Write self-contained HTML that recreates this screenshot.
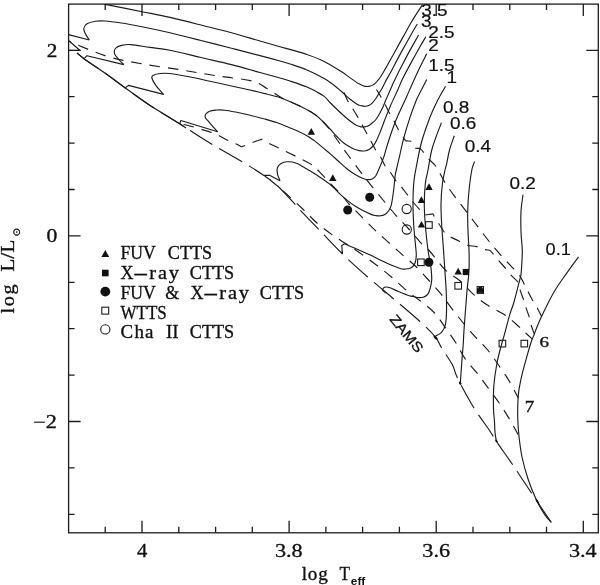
<!DOCTYPE html>
<html><head><meta charset="utf-8"><title>HR diagram</title>
<style>html,body{margin:0;padding:0;background:#fff}svg{display:block}</style></head>
<body>
<svg width="600" height="585" viewBox="0 0 600 585">
<rect x="0" y="0" width="600" height="585" fill="#fff"/>
<g fill="none" stroke="#1c1c1c" stroke-width="1.3" stroke-linecap="butt">
<rect x="68.6" y="4.1" width="529.7" height="528.7"/>
<path d="M105.2 532.8v-6.0M105.2 4.1v6.0M142.0 532.8v-12.0M142.0 4.1v12.0M178.8 532.8v-6.0M178.8 4.1v6.0M215.6 532.8v-6.0M215.6 4.1v6.0M252.3 532.8v-6.0M252.3 4.1v6.0M289.1 532.8v-12.0M289.1 4.1v12.0M325.9 532.8v-6.0M325.9 4.1v6.0M362.6 532.8v-6.0M362.6 4.1v6.0M399.4 532.8v-6.0M399.4 4.1v6.0M436.2 532.8v-12.0M436.2 4.1v12.0M473.0 532.8v-6.0M473.0 4.1v6.0M509.8 532.8v-6.0M509.8 4.1v6.0M546.5 532.8v-6.0M546.5 4.1v6.0M583.3 532.8v-12.0M583.3 4.1v12.0M68.6 514.3h6.0M598.3 514.3h-6.0M68.6 467.9h6.0M598.3 467.9h-6.0M68.6 421.5h12.0M598.3 421.5h-12.0M68.6 375.1h6.0M598.3 375.1h-6.0M68.6 328.7h6.0M598.3 328.7h-6.0M68.6 282.3h6.0M598.3 282.3h-6.0M68.6 235.9h12.0M598.3 235.9h-12.0M68.6 189.5h6.0M598.3 189.5h-6.0M68.6 143.1h6.0M598.3 143.1h-6.0M68.6 96.7h6.0M598.3 96.7h-6.0M68.6 50.3h12.0M598.3 50.3h-12.0"/>
</g>
<defs><clipPath id="c"><rect x="68.6" y="4.1" width="529.7" height="528.7"/></clipPath></defs>
<g clip-path="url(#c)" fill="none" stroke="#1c1c1c" stroke-width="1.15" stroke-linejoin="round" stroke-linecap="butt">
<path d="M104.0 4.1C110.3 5.4 131.0 9.5 142.0 11.7C153.0 13.9 160.3 15.2 170.0 17.4C179.7 19.6 189.8 22.2 200.0 24.8C210.2 27.4 221.5 30.1 231.5 32.8C241.5 35.5 251.9 38.7 260.0 41.0C268.1 43.3 275.0 45.4 280.0 46.8C285.0 48.2 285.5 48.1 290.0 49.4C294.5 50.7 301.3 52.5 307.0 54.5C312.7 56.5 318.5 58.5 324.2 61.4C329.9 64.2 337.0 68.9 341.3 71.6C345.6 74.3 347.0 75.6 349.8 77.6C352.6 79.6 356.2 82.2 358.4 83.6C360.6 84.9 361.6 85.2 363.0 85.7C364.4 86.2 365.8 86.5 367.0 86.5C368.2 86.5 369.4 86.3 370.5 86.0C371.6 85.7 372.7 85.2 373.8 84.4C374.9 83.7 375.9 82.8 377.0 81.5C378.1 80.2 379.2 79.0 380.6 76.8C382.0 74.6 384.0 71.1 385.6 68.4C387.2 65.7 388.6 63.1 390.0 60.5C391.4 57.9 392.1 56.8 394.2 53.0C396.3 49.2 399.8 42.7 402.7 37.6C405.6 32.5 408.0 27.7 411.3 22.2C414.6 16.7 420.5 7.7 422.4 4.8"/>
<path d="M68.5 34.6L89.2 40.0"/>
<path d="M89.2 40.0C88.6 39.0 86.3 35.7 85.4 33.8C84.5 31.9 83.5 30.2 83.8 28.5C84.1 26.8 85.1 25.0 87.0 23.8C88.9 22.6 92.4 21.7 95.4 21.2C98.4 20.7 100.7 20.7 105.0 21.0C109.3 21.3 115.3 22.1 121.5 23.0C127.7 23.9 133.9 25.1 142.0 26.7C150.1 28.3 160.3 30.5 170.0 32.8C179.7 35.1 189.8 37.7 200.0 40.3C210.2 42.9 221.5 45.7 231.5 48.2C241.5 50.8 251.9 53.5 260.0 55.6C268.1 57.7 275.0 59.6 280.0 61.0C285.0 62.4 285.5 62.5 290.0 64.0C294.5 65.5 301.3 67.6 307.0 70.0C312.7 72.4 319.9 76.1 324.2 78.5C328.5 80.9 330.1 82.4 333.0 84.5C335.9 86.6 338.5 88.9 341.3 91.3C344.1 93.7 347.1 96.8 349.8 99.0C352.5 101.2 355.4 103.2 357.4 104.4C359.4 105.6 360.7 105.6 362.0 105.9C363.3 106.2 364.3 106.4 365.4 106.3C366.5 106.2 367.6 106.0 368.8 105.4C370.0 104.8 371.3 103.9 372.4 102.8C373.5 101.7 374.4 100.5 375.5 99.0C376.6 97.5 377.8 95.2 378.9 93.5C380.0 91.8 380.9 90.5 382.0 88.5C383.1 86.5 384.3 83.8 385.6 81.3C386.9 78.8 388.6 76.1 390.0 73.5C391.4 70.9 392.1 69.5 394.2 65.5C396.3 61.5 399.8 54.8 402.7 49.6C405.6 44.4 408.9 38.5 411.3 34.2C413.7 29.9 416.3 25.7 417.3 24.0"/>
<path d="M84.6 58.0L87.0 55.7L123.8 64.6"/>
<path d="M123.8 64.6C123.0 63.8 120.7 61.8 119.2 60.0C117.7 58.2 115.2 55.7 114.6 53.8C114.0 51.9 114.2 49.9 115.4 48.5C116.6 47.1 118.9 46.0 121.5 45.4C124.1 44.8 126.1 44.3 130.8 44.6C135.6 44.9 143.5 46.5 150.0 47.4C156.5 48.3 161.7 48.6 170.0 50.3C178.3 51.9 189.8 54.9 200.0 57.3C210.2 59.7 221.5 62.1 231.5 64.6C241.5 67.1 251.9 70.3 260.0 72.5C268.1 74.7 275.0 76.6 280.0 78.0C285.0 79.4 285.5 79.5 290.0 81.0C294.5 82.5 302.7 85.2 307.0 87.0C311.3 88.8 313.1 89.9 316.0 91.5C318.9 93.1 321.9 94.6 324.2 96.4C326.5 98.2 327.7 100.2 330.0 102.5C332.3 104.8 335.5 107.9 338.2 110.5C340.9 113.1 343.7 115.7 346.4 118.0C349.1 120.3 352.5 122.8 354.6 124.2C356.7 125.6 357.6 125.7 359.0 126.2C360.4 126.7 361.6 127.0 362.8 127.0C364.1 127.0 365.4 126.8 366.5 126.5C367.6 126.2 368.6 125.6 369.7 124.9C370.8 124.2 371.9 123.3 373.0 122.3C374.1 121.3 375.0 120.9 376.5 118.7C378.0 116.5 380.4 112.2 382.0 109.0C383.6 105.8 384.6 102.8 386.0 99.6C387.4 96.4 388.8 93.1 390.2 90.0C391.6 86.9 392.1 85.3 394.2 81.0C396.3 76.7 399.8 69.5 402.7 64.0C405.6 58.5 408.6 52.7 411.3 47.9C414.0 43.1 417.4 37.1 418.6 35.0"/>
<path d="M125.4 87.7L128.5 85.4L163.6 94.4"/>
<path d="M163.6 94.4C162.4 93.0 158.3 88.9 156.4 86.2C154.5 83.5 152.4 79.8 151.9 78.0C151.4 76.2 152.4 76.0 153.5 75.3C154.6 74.6 156.6 74.1 158.5 73.8C160.4 73.5 162.2 73.2 165.0 73.3C167.8 73.4 170.8 73.6 175.0 74.2C179.2 74.8 184.7 75.8 190.5 77.0C196.3 78.2 203.2 79.8 210.0 81.3C216.8 82.8 224.8 84.5 231.5 86.0C238.2 87.5 244.6 88.8 250.0 90.0C255.4 91.2 259.1 92.3 263.7 93.4C268.3 94.5 272.8 95.4 277.4 96.8C281.9 98.2 286.4 100.0 291.0 102.0C295.6 104.0 300.6 106.3 304.7 108.5C308.8 110.7 312.4 112.7 315.6 115.0C318.8 117.3 321.4 120.2 323.8 122.5C326.2 124.8 327.8 126.7 330.0 129.0C332.2 131.3 334.5 134.2 336.8 136.5C339.1 138.8 341.2 141.1 343.7 143.0C346.2 144.9 349.7 146.8 351.9 148.0C354.1 149.2 355.5 149.5 357.0 150.0C358.5 150.5 359.6 150.8 361.0 150.9C362.4 151.0 364.4 151.0 365.6 150.8C366.9 150.6 367.6 150.3 368.5 149.8C369.4 149.3 370.1 148.8 371.0 148.0C371.9 147.2 373.1 146.0 374.0 144.8C374.9 143.6 375.4 142.9 376.5 140.6C377.6 138.3 379.2 134.4 380.6 131.0C382.0 127.6 383.1 124.1 384.7 120.0C386.3 115.9 388.0 111.4 390.2 106.4C392.4 101.4 395.6 94.6 397.7 90.0C399.8 85.4 400.4 83.2 402.7 78.6C405.0 74.0 408.4 67.7 411.3 62.4C414.2 57.1 417.4 51.3 419.8 47.0C422.2 42.7 424.8 38.5 425.8 36.8"/>
<path d="M179.7 123.6L180.8 120.5L217.7 131.8"/>
<path d="M217.7 131.8C216.3 130.3 211.6 125.2 209.5 122.6C207.4 120.0 205.0 118.3 205.0 116.4C205.0 114.5 207.5 112.4 209.5 111.3C211.5 110.2 214.4 110.2 217.0 110.0C219.6 109.8 221.5 109.8 225.0 110.2C228.5 110.6 233.8 111.7 238.0 112.5C242.2 113.3 245.7 114.3 250.0 115.3C254.3 116.3 259.1 117.5 263.7 118.7C268.3 120.0 272.8 121.2 277.4 122.8C281.9 124.4 286.4 126.4 291.0 128.3C295.6 130.2 300.8 132.4 304.7 134.4C308.6 136.4 311.3 138.4 314.3 140.6C317.3 142.8 319.9 145.2 322.5 147.4C325.1 149.6 327.4 151.3 330.0 153.6C332.6 155.9 335.2 158.3 338.2 161.0C341.2 163.7 344.8 167.2 347.8 169.5C350.8 171.8 353.5 173.5 356.0 175.0C358.5 176.5 360.9 177.6 362.6 178.3C364.4 179.1 365.3 179.3 366.5 179.5C367.7 179.7 368.6 179.8 369.7 179.6C370.8 179.4 371.9 179.1 373.0 178.4C374.1 177.7 375.1 176.9 376.0 175.5C376.9 174.1 377.3 172.8 378.5 170.0C379.7 167.2 381.8 162.6 383.3 158.4C384.8 154.2 385.8 149.7 387.4 144.7C389.0 139.7 391.1 133.3 392.9 128.3C394.7 123.3 396.1 119.8 398.4 114.6C400.7 109.3 404.5 101.6 406.6 96.8C408.8 92.0 409.1 90.9 411.3 86.0C413.5 81.1 417.2 72.9 419.8 67.5C422.4 62.1 425.6 56.1 426.7 53.8"/>
<path d="M263.8 175.4L270.0 175.4L280.0 180.8"/>
<path d="M280.0 180.8C279.6 179.6 277.8 176.0 277.4 173.8C277.0 171.6 276.8 169.4 277.4 167.7C278.0 166.0 279.4 164.6 281.0 163.6C282.6 162.6 284.4 161.9 287.0 161.8C289.6 161.7 293.1 161.9 296.5 163.2C299.9 164.4 304.1 167.4 307.4 169.3C310.6 171.2 312.2 172.0 316.0 174.5C319.8 177.0 325.4 180.6 330.0 184.4C334.6 188.2 339.1 193.5 343.7 197.4C348.3 201.3 352.8 204.8 357.4 207.6C361.9 210.4 367.9 213.1 371.0 214.4C374.1 215.7 374.4 215.4 376.0 215.6C377.6 215.8 379.2 215.9 380.6 215.8C382.0 215.7 383.4 215.4 384.5 214.8C385.6 214.2 386.5 213.4 387.4 212.4C388.3 211.4 389.1 210.2 389.8 208.8C390.5 207.4 390.9 207.2 391.5 204.2C392.1 201.1 393.0 195.1 393.6 190.5C394.2 185.9 394.6 180.2 395.0 176.8C395.4 173.4 395.5 173.5 396.3 170.0C397.1 166.5 398.4 160.9 399.7 155.6C400.9 150.2 402.1 144.3 403.8 137.9C405.5 131.5 407.9 123.7 410.0 117.4C412.1 111.1 414.5 104.6 416.4 100.0C418.3 95.4 419.8 93.1 421.5 89.7C423.2 86.3 425.8 81.2 426.7 79.5"/>
<path d="M342.3 253.8L341.8 245.4L344.6 243.8"/>
<path d="M344.6 243.8C346.1 244.5 349.7 245.9 353.8 247.7C357.9 249.5 363.8 252.1 369.2 254.6C374.6 257.1 380.9 260.5 386.0 262.8C391.1 265.1 396.8 267.5 400.0 268.5C403.2 269.5 403.8 269.1 405.5 269.0C407.2 268.9 408.8 268.6 410.0 268.2C411.2 267.8 411.9 267.4 412.8 266.5C413.7 265.6 414.6 264.4 415.2 262.5C415.8 260.6 416.3 258.8 416.3 255.0C416.3 251.2 415.4 245.1 415.0 240.0C414.6 234.9 414.0 230.7 413.7 224.7C413.4 218.7 413.0 211.0 413.0 204.2C413.0 197.4 413.2 189.4 413.7 183.7C414.1 178.0 414.4 176.8 415.7 170.0C417.0 163.2 419.0 151.6 421.3 143.0C423.6 134.4 426.8 125.7 429.5 118.5C432.2 111.3 435.1 105.4 437.8 100.0C440.5 94.6 444.2 88.6 445.5 86.3"/>
<path d="M441.5 122.6C440.6 125.0 437.7 132.3 436.0 137.0C434.3 141.7 432.8 145.5 431.5 151.0C430.2 156.5 429.0 164.6 428.0 170.0C427.0 175.4 425.9 178.0 425.3 183.7C424.7 189.4 424.3 197.4 424.3 204.2C424.3 211.0 424.7 217.1 425.3 224.7C425.9 232.3 427.1 243.1 428.0 250.0C428.9 256.9 430.2 261.4 430.8 266.4C431.4 271.4 431.9 275.9 431.7 280.0C431.5 284.1 430.2 288.5 429.4 291.0C428.6 293.5 428.0 294.0 427.0 295.0C426.0 296.0 424.7 296.8 423.2 297.2C421.7 297.6 419.6 297.7 418.0 297.6C416.4 297.5 415.2 296.8 413.7 296.5C412.2 296.2 411.7 296.6 409.2 295.8C406.7 295.0 401.8 292.9 398.5 291.5C395.2 290.1 391.5 288.2 389.2 287.5C386.9 286.8 385.6 286.9 384.5 287.3C383.4 287.7 382.7 289.6 382.3 290.0"/>
<path d="M382.3 290.0L386.0 293.0"/>
<path d="M454.3 135.7C453.5 138.1 450.8 145.3 449.5 150.0C448.2 154.7 447.4 160.3 446.7 163.6C445.9 166.9 445.7 166.7 445.0 170.0C444.3 173.3 443.1 178.0 442.4 183.7C441.7 189.4 441.1 197.4 441.0 204.2C440.9 211.0 441.3 217.1 441.7 224.7C442.1 232.3 443.0 242.4 443.5 250.0C444.0 257.6 444.4 263.7 444.9 270.5C445.3 277.3 445.9 284.2 446.2 291.0C446.5 297.8 446.6 305.9 446.5 311.5C446.4 317.1 446.2 321.1 445.4 324.6C444.6 328.1 443.2 330.4 441.5 332.3C439.8 334.2 436.4 335.4 435.4 336.0"/>
<path d="M474.6 161.5C474.1 162.9 472.7 165.2 471.8 170.0C470.9 174.8 469.7 183.7 469.0 190.5C468.3 197.3 467.9 204.2 467.7 211.0C467.5 217.8 467.8 225.0 468.0 231.5C468.2 238.0 468.8 243.5 469.0 250.0C469.2 256.5 469.3 263.7 469.0 270.5C468.7 277.3 467.6 284.2 467.0 291.0C466.4 297.8 465.9 305.0 465.4 311.5C464.9 318.0 464.4 324.4 464.0 330.0C463.6 335.6 463.5 340.8 463.2 345.0C462.9 349.2 462.6 351.1 462.3 355.4C462.0 359.7 461.5 366.1 461.2 370.8C460.9 375.5 460.4 381.6 460.3 383.8"/>
<path d="M523.0 194.8C522.7 197.6 521.3 205.3 521.0 211.5C520.7 217.7 520.8 225.4 521.0 232.0C521.2 238.6 522.2 244.4 522.3 251.0C522.3 257.6 521.6 267.1 521.3 271.5C521.0 275.9 520.5 276.7 520.3 277.7"/>
<path d="M520.3 277.7C519.2 281.8 515.7 296.0 514.0 302.0C512.3 308.0 511.6 308.5 510.0 313.8C508.4 319.1 506.0 328.7 504.6 333.8C503.2 338.9 502.8 339.7 501.5 344.6C500.2 349.5 498.3 356.1 497.0 363.0C495.7 369.9 494.4 378.3 493.8 386.0C493.2 393.7 493.4 403.3 493.5 409.0C493.6 414.7 494.1 416.1 494.4 420.0C494.6 423.9 494.7 428.7 495.0 432.3C495.3 435.9 496.2 440.0 496.4 441.5"/>
<path d="M578.6 256.8C576.6 259.6 570.5 267.7 566.4 273.6C562.3 279.5 558.2 284.8 554.0 292.0C549.8 299.2 544.3 310.7 541.3 317.0C538.3 323.3 537.0 327.1 535.8 330.0C534.6 332.9 535.1 332.1 534.3 334.2C533.5 336.3 532.1 339.1 531.0 342.5C529.9 345.9 528.9 349.3 527.4 354.7C525.9 360.1 523.5 368.2 522.0 374.6C520.5 381.1 519.2 387.4 518.5 393.4C517.8 399.4 517.8 406.1 517.7 410.5C517.6 414.9 517.6 415.7 517.8 420.0C518.0 424.3 518.3 430.2 519.0 436.4C519.7 442.6 520.5 449.8 522.0 457.0C523.5 464.2 525.8 472.3 528.2 479.5C530.6 486.7 533.7 494.2 536.4 500.0C539.1 505.8 542.1 510.6 544.6 514.4C547.1 518.2 550.3 521.2 551.4 522.6"/>
<path d="M68.6 40.5L80.0 50.5L68.5 50.2"/>
</g>
<g clip-path="url(#c)" fill="none" stroke="#1c1c1c" stroke-width="1.15" stroke-dasharray="10.5 8">
<path d="M68.2 41.0C74.5 43.5 93.8 52.2 106.0 56.0C118.2 59.8 129.2 61.5 141.5 63.8C153.8 66.1 167.8 67.8 180.0 69.7C192.2 71.7 203.0 73.6 215.0 75.5C227.0 77.4 243.4 78.9 252.0 81.0C260.6 83.1 261.3 85.3 266.4 88.2C271.5 91.1 278.7 96.2 282.8 98.5C286.9 100.8 287.4 100.3 291.0 102.0C294.6 103.7 300.6 106.3 304.7 108.5C308.8 110.7 312.4 112.7 315.6 115.0C318.8 117.3 321.4 120.0 323.8 122.5C326.2 125.0 327.6 126.9 330.0 130.0C332.4 133.1 335.0 136.8 338.0 141.0C341.0 145.2 344.2 149.9 348.0 155.0C351.8 160.1 357.3 167.6 360.5 171.8C363.7 176.0 363.0 175.3 367.0 180.3C371.0 185.3 379.8 196.1 384.7 202.0C389.6 207.9 392.2 211.2 396.3 215.8C400.4 220.4 405.2 224.9 409.3 229.5C413.4 234.1 417.8 239.5 421.2 243.2C424.6 246.9 426.0 247.0 430.0 251.5C434.0 256.0 440.4 265.1 445.4 270.0C450.4 274.9 455.3 276.7 460.0 280.8C464.7 284.9 469.1 290.5 473.8 294.6C478.5 298.7 482.9 302.2 488.2 305.6C493.4 309.0 500.7 312.1 505.3 315.2C509.9 318.3 512.6 321.1 516.0 324.0C519.4 326.9 522.7 330.3 525.4 332.8C528.1 335.3 531.2 338.1 532.4 339.2" stroke-dashoffset="7.3"/>
<path d="M179.7 123.6C181.4 124.0 186.5 125.1 190.0 126.0C193.5 126.9 197.2 128.1 200.8 129.2C204.4 130.3 208.6 131.4 211.7 132.5C214.8 133.6 216.4 134.5 219.2 135.8C222.0 137.1 225.5 139.2 228.3 140.5C231.1 141.8 233.8 142.8 235.8 143.7C237.8 144.6 239.5 145.7 240.5 146.2C241.5 146.7 241.3 146.7 241.7 146.7C242.1 146.7 241.2 147.0 243.0 146.3C244.8 145.6 249.6 143.6 252.5 142.5C255.4 141.4 258.9 140.2 260.5 139.7C262.1 139.2 261.5 139.3 262.0 139.3C262.5 139.3 262.3 139.2 263.5 139.9C264.7 140.6 266.5 142.0 269.0 143.3C271.5 144.7 274.2 145.8 278.7 148.0C283.2 150.2 290.3 153.6 295.8 156.3C301.3 159.1 307.6 161.9 311.5 164.5C315.4 167.1 316.1 168.4 319.5 171.8C322.9 175.2 328.1 181.1 331.8 185.0C335.6 188.9 339.1 192.2 342.0 195.4C344.9 198.6 345.5 200.2 349.0 204.0C352.5 207.8 358.3 213.4 362.8 217.9C367.3 222.4 371.4 226.7 375.8 230.9C380.2 235.1 385.0 239.1 389.5 243.2C394.0 247.3 398.7 251.6 403.0 255.4C407.3 259.2 411.1 261.9 415.4 266.0C419.6 270.1 424.1 275.2 428.5 280.0C432.9 284.8 437.5 289.7 441.5 294.6C445.5 299.5 448.4 304.2 452.3 309.2C456.2 314.2 460.7 319.9 464.6 324.6C468.6 329.4 472.1 333.5 476.0 337.7C479.9 341.9 483.8 345.3 487.7 350.0C491.6 354.7 495.5 360.6 499.2 366.0C502.9 371.4 506.8 377.0 510.0 382.3C513.2 387.6 516.8 395.4 518.2 398.0" stroke-dashoffset="14.4"/>
<path d="M270.0 180.0C272.2 181.8 277.4 185.8 283.0 190.8C288.6 195.8 298.1 204.6 303.8 210.0C309.5 215.4 312.1 218.8 317.0 223.0C321.9 227.2 328.2 231.9 333.0 235.4C337.8 238.9 341.1 240.6 346.0 243.8C350.9 247.0 357.0 250.9 362.3 254.6C367.6 258.3 372.8 262.3 377.7 266.0C382.6 269.7 386.8 273.0 391.5 277.0C396.2 281.0 401.2 286.0 406.0 290.0C410.8 294.0 415.2 297.0 420.0 300.8C424.8 304.6 430.4 308.5 434.6 313.0C438.8 317.5 441.8 322.7 445.4 327.7C449.0 332.7 452.7 337.8 456.0 343.0C459.3 348.2 461.8 354.1 465.4 359.2C469.0 364.3 473.8 368.9 477.7 373.8C481.6 378.7 484.9 383.6 488.5 388.5C492.1 393.4 495.6 397.8 499.2 403.0C502.8 408.2 506.9 414.8 510.0 420.0C513.1 425.2 516.7 432.0 518.0 434.4" stroke-dashoffset="1.5"/>
<path d="M343.6 91.5C344.3 93.1 346.3 98.2 347.8 101.0C349.3 103.8 350.9 105.8 352.6 108.5C354.3 111.2 356.4 114.7 358.0 117.4C359.6 120.1 360.6 122.2 362.1 124.9C363.6 127.6 365.4 131.1 366.9 133.8C368.4 136.5 369.5 138.6 371.0 141.3C372.5 144.0 374.2 147.6 375.8 150.2C377.4 152.8 379.1 154.5 380.6 157.0C382.1 159.5 383.1 162.7 384.7 165.2C386.3 167.7 388.4 169.5 390.2 172.0C392.0 174.5 393.8 177.9 395.6 180.3C397.4 182.7 399.1 184.0 401.0 186.4C402.9 188.8 405.3 192.0 407.3 194.6C409.3 197.2 410.9 199.5 413.0 202.0C415.1 204.5 418.0 207.7 419.8 209.7C421.6 211.7 422.8 213.1 423.6 213.9C424.4 214.8 424.2 214.7 424.6 214.8C425.0 215.0 424.9 214.9 426.0 214.8C427.1 214.7 430.4 214.2 431.5 214.1C432.6 214.0 432.4 213.8 432.8 214.0C433.2 214.2 433.3 214.5 433.6 215.0C433.9 215.5 433.6 215.5 434.5 217.0C435.4 218.5 437.4 221.6 439.0 224.0C440.6 226.4 442.6 229.9 443.8 231.5C445.0 233.1 444.9 232.7 446.0 233.6C447.1 234.5 448.5 235.8 450.6 237.0C452.7 238.2 456.1 239.6 458.8 241.0C461.5 242.4 464.0 244.3 467.0 245.2C470.0 246.1 473.6 245.9 476.6 246.6C479.6 247.3 482.6 249.0 484.8 249.6C487.0 250.2 488.5 249.9 489.6 250.3C490.7 250.7 490.7 251.2 491.3 251.8C491.9 252.4 491.8 252.2 493.0 253.7C494.2 255.1 496.4 258.1 498.5 260.5C500.6 262.9 503.2 265.6 505.3 268.0C507.4 270.4 508.6 272.5 510.8 274.9C513.0 277.3 516.8 280.5 518.3 282.4C519.8 284.2 519.3 284.6 519.6 286.0C519.9 287.4 519.6 288.2 520.3 290.6C521.0 293.0 522.9 297.5 523.8 300.2C524.7 302.9 524.9 304.2 525.8 307.0C526.7 309.8 528.4 314.3 529.3 317.2C530.2 320.1 530.2 321.8 531.0 324.6C531.8 327.4 533.8 332.6 534.3 334.2" stroke-dashoffset="17.4"/>
<path d="M376.5 89.5C377.3 90.8 379.8 94.9 381.3 97.5C382.8 100.1 384.0 102.4 385.4 105.0C386.8 107.6 388.0 110.5 389.5 113.2C391.0 116.0 392.8 118.8 394.3 121.5C395.8 124.2 396.9 127.1 398.4 129.7C399.9 132.3 402.0 135.3 403.1 137.0C404.2 138.7 404.8 139.5 405.2 140.1C405.6 140.7 405.5 140.7 405.7 140.8C405.9 140.9 405.9 140.8 406.6 140.9C407.3 141.0 409.3 141.1 410.0 141.2C410.7 141.2 410.6 141.1 410.8 141.2C411.0 141.3 410.7 141.0 411.3 142.0C411.9 143.0 413.6 146.3 414.2 147.3C414.8 148.3 414.5 148.0 414.7 148.2C414.9 148.4 414.8 148.2 415.6 148.2C416.4 148.3 418.6 148.4 419.4 148.4C420.2 148.5 420.0 148.4 420.2 148.5C420.4 148.6 420.2 148.4 420.8 149.1C421.4 149.8 422.3 150.7 423.6 152.4C424.9 154.1 426.7 156.8 428.8 159.2C430.9 161.5 433.4 162.8 436.0 166.5C438.6 170.2 441.2 176.4 444.4 181.6C447.6 186.8 451.6 192.3 455.4 197.4C459.2 202.5 463.2 207.5 467.0 212.4C470.8 217.3 474.3 222.0 478.0 226.8C481.7 231.7 485.3 236.7 489.2 241.5C493.1 246.3 497.0 251.0 501.2 255.7C505.4 260.3 511.1 266.1 514.2 269.4C517.3 272.7 518.0 273.1 519.7 275.6C521.4 278.1 523.0 281.8 524.4 284.4C525.8 287.0 526.5 288.7 527.9 291.3C529.3 293.9 531.1 297.6 532.6 300.2C534.1 302.8 535.3 304.2 536.8 307.0C538.3 309.8 541.0 315.1 541.8 316.7" stroke-dashoffset="1.2"/>
</g>
<g clip-path="url(#c)" fill="none" stroke="#1c1c1c" stroke-width="1.15" stroke-dasharray="26.3 8">
<path d="M77.0 53.0C78.3 54.0 79.8 55.7 84.6 59.2C89.4 62.7 99.1 68.9 106.0 73.8C112.9 78.7 118.7 83.2 126.0 88.5C133.3 93.8 140.9 99.4 150.0 105.4C159.1 111.4 170.6 118.2 180.8 124.6C191.1 131.0 200.2 137.2 211.5 144.0C222.8 150.8 239.8 160.4 248.5 165.6C257.2 170.8 258.9 172.0 263.8 175.4C268.7 178.8 272.6 181.3 277.7 186.0C282.8 190.7 290.9 199.8 294.6 203.8C298.3 207.8 296.0 205.8 300.0 210.0C304.0 214.2 311.4 221.9 318.5 229.2C325.6 236.5 334.1 245.8 342.3 253.8C350.5 261.8 359.4 269.7 367.7 277.0C376.0 284.3 383.6 290.3 392.3 297.7C401.0 305.1 412.8 314.9 420.0 321.5C427.2 328.1 431.8 332.6 435.4 337.0C439.0 341.4 438.7 343.1 441.5 347.7C444.3 352.3 449.6 359.5 452.3 364.6C455.0 369.7 454.1 371.3 457.7 378.5C461.3 385.7 468.6 399.1 473.8 407.7C479.1 416.3 485.4 424.4 489.2 430.0C493.0 435.6 492.6 435.8 496.4 441.5C500.2 447.2 506.4 455.4 512.2 464.0C518.0 472.6 524.8 483.0 531.3 492.8C537.8 502.6 548.0 517.6 551.4 522.6"/>
</g>
<path clip-path="url(#c)" fill="none" stroke="#1c1c1c" stroke-width="1.15" d="M77.0 53.0L84.6 59.2L106.0 73.8L126.0 88.5L150.0 105.4L180.8 124.6L186.0 128.0"/>
<g fill="#111" stroke="none">
<path d="M311.3 128.1L315.0 134.8L307.6 134.8Z"/>
<path d="M332.8 174.3L336.5 181.0L329.1 181.0Z"/>
<path d="M429.0 183.3L432.7 190.0L425.3 190.0Z"/>
<path d="M421.4 196.3L425.1 203.0L417.7 203.0Z"/>
<path d="M421.5 220.9L425.2 227.6L417.8 227.6Z"/>
<path d="M458.2 267.8L461.9 274.5L454.5 274.5Z"/>
<rect x="462.7" y="268.9" width="6.2" height="6.2"/>
<circle cx="369.7" cy="197.2" r="4.5"/>
<circle cx="347.7" cy="210.0" r="4.5"/>
<circle cx="428.9" cy="262.3" r="4.5"/>
</g>
<g fill="none" stroke="#1c1c1c" stroke-width="1.1">
<rect x="425.6" y="221.7" width="6.6" height="6.6"/>
<rect x="417.6" y="259.0" width="6.6" height="6.6"/>
<rect x="454.9" y="282.5" width="6.6" height="6.6"/>
<rect x="499.1" y="340.3" width="6.6" height="6.6"/>
<rect x="521.0" y="340.3" width="6.6" height="6.6"/>
<circle cx="406.7" cy="209.0" r="4.6"/>
<circle cx="406.8" cy="229.5" r="4.6"/>
</g>
<g><rect x="476.6" y="286.1" width="7.4" height="7.8" fill="#111"/><circle cx="478.0" cy="287.7" r="0.6" fill="#ccc"/><circle cx="482.6" cy="287.7" r="0.6" fill="#ccc"/><path d="M478.0 292.6h4.6" stroke="#555" stroke-width="0.5"/></g>
<g fill="#111"><path d="M105.3 250.0L109.2 257.0L101.4 257.0Z"/><rect x="102.0" y="269.7" width="6.6" height="6.6"/><circle cx="105.3" cy="291.6" r="4.9"/></g>
<g fill="none" stroke="#1c1c1c" stroke-width="1.1"><rect x="101.8" y="307.2" width="6.9" height="6.9"/><circle cx="105.3" cy="329.4" r="4.6"/></g>
<g fill="#111">
<ellipse cx="435.6" cy="337.6" rx="2.6" ry="1.3" transform="rotate(45 435.6 337.6)"/>
<ellipse cx="460.2" cy="383.2" rx="1.8" ry="1.1" transform="rotate(60 460.2 383.2)"/>
<ellipse cx="496.6" cy="441.2" rx="2.0" ry="1.0" transform="rotate(55 496.6 441.2)"/>
<ellipse cx="537.2" cy="501.0" rx="2.6" ry="0.9" transform="rotate(58 537.2 501.0)"/>
<ellipse cx="342.2" cy="252.5" rx="1.2" ry="0.8" transform="rotate(80 342.2 252.5)"/>
</g>
<g fill="#111" stroke="#111" stroke-width="0.2" font-family="'Liberation Sans', Arial, sans-serif" font-size="17.2">
<text transform="translate(421.3,16.4) scale(1.100,1)">3.5</text>
<text transform="translate(421.0,26.5) scale(1.098,1)">3</text>
<text transform="translate(428.2,38.4) scale(1.100,1)">2.5</text>
<text transform="translate(428.2,50.7) scale(1.098,1)">2</text>
<text transform="translate(428.3,70.9) scale(1.100,1)">1.5</text>
<text transform="translate(446.6,82.9) scale(1.098,1)">1</text>
<text transform="translate(442.9,113.0) scale(1.100,1)">0.8</text>
<text transform="translate(449.9,128.6) scale(1.100,1)">0.6</text>
<text transform="translate(464.8,152.3) scale(1.100,1)">0.4</text>
<text transform="translate(509.4,189.3) scale(1.100,1)">0.2</text>
<text transform="translate(545.6,254.7) scale(1.058,1)">0.1</text>
</g>
<g fill="#111" stroke="#111" stroke-width="0.32" font-family="'Liberation Serif', 'Times New Roman', serif" font-size="18">
<text x="46.8" y="56.8" textLength="10.6" lengthAdjust="spacingAndGlyphs">2</text>
<text x="46.6" y="242.4" textLength="10.8" lengthAdjust="spacingAndGlyphs">0</text>
<text x="33.2" y="428.3" textLength="23.7" lengthAdjust="spacingAndGlyphs">−2</text>
<text x="137.0" y="557.2" textLength="10.3" lengthAdjust="spacingAndGlyphs">4</text>
<text x="275.0" y="556.7" textLength="27.7" lengthAdjust="spacingAndGlyphs">3.8</text>
<text x="422.3" y="556.7" textLength="27.7" lengthAdjust="spacingAndGlyphs">3.6</text>
<text x="568.9" y="556.7" textLength="27.7" lengthAdjust="spacingAndGlyphs">3.4</text>
<text y="259.2"><tspan x="120.5" textLength="35.0" lengthAdjust="spacingAndGlyphs">FUV</tspan> <tspan x="167.8" textLength="44.4" lengthAdjust="spacingAndGlyphs">CTTS</tspan></text><text y="278.5"><tspan x="120.5">X</tspan><tspan dx="-0.5" textLength="15.5" lengthAdjust="spacingAndGlyphs">-</tspan><tspan dx="0.8" textLength="31.5" lengthAdjust="spacingAndGlyphs" letter-spacing="1.6">ray</tspan> <tspan x="189.8" textLength="44.4" lengthAdjust="spacingAndGlyphs">CTTS</tspan></text><text y="298.6"><tspan x="120.5" textLength="35.0" lengthAdjust="spacingAndGlyphs">FUV</tspan> <tspan x="165.3" textLength="14.0" lengthAdjust="spacingAndGlyphs">&amp;</tspan> <tspan x="190.5">X</tspan><tspan dx="-0.5" textLength="15.5" lengthAdjust="spacingAndGlyphs">-</tspan><tspan dx="0.8" textLength="31.5" lengthAdjust="spacingAndGlyphs" letter-spacing="1.6">ray</tspan> <tspan x="259.8" textLength="44.4" lengthAdjust="spacingAndGlyphs">CTTS</tspan></text><text y="319"><tspan x="120.5" textLength="46.2" lengthAdjust="spacingAndGlyphs">WTTS</tspan></text><text y="337.6"><tspan x="120.5" textLength="34.3" lengthAdjust="spacingAndGlyphs" letter-spacing="1.2">Cha</tspan> <tspan x="166.0" textLength="12.6" lengthAdjust="spacingAndGlyphs">II</tspan> <tspan x="189.8" textLength="44.4" lengthAdjust="spacingAndGlyphs">CTTS</tspan></text><text y="579.5"><tspan x="301.7" textLength="27.0" lengthAdjust="spacingAndGlyphs" letter-spacing="0.8">log</tspan> <tspan x="339.5" textLength="10.5" lengthAdjust="spacingAndGlyphs">T</tspan></text><text x="350.8" y="584.5" font-family="'Liberation Sans', Arial, sans-serif" font-weight="bold" font-size="11.5" stroke="none" textLength="14.5" lengthAdjust="spacingAndGlyphs">eff</text><text transform="translate(14.4,313.6) rotate(-90)"><tspan x="0.0" textLength="31.0" lengthAdjust="spacingAndGlyphs" letter-spacing="1.5">log</tspan> <tspan x="41.8" textLength="32.3" lengthAdjust="spacingAndGlyphs">L/L</tspan></text><text transform="translate(19.9,236.6) rotate(-90)" font-family="'DejaVu Sans', 'Liberation Sans', sans-serif" font-size="10" stroke-width="0.3">⊙</text><text transform="translate(388.9,319.6) rotate(50.5) scale(1.16,1)" font-family="'Liberation Sans', Arial, sans-serif" font-size="13.7" stroke-width="0.3">ZAMS</text><text x="539.6" y="347.2" font-size="15.2" textLength="9.5" lengthAdjust="spacingAndGlyphs">6</text><text x="524.8" y="412.3" font-size="16" textLength="9.4" lengthAdjust="spacingAndGlyphs">7</text>
</g>
</svg>
</body></html>
